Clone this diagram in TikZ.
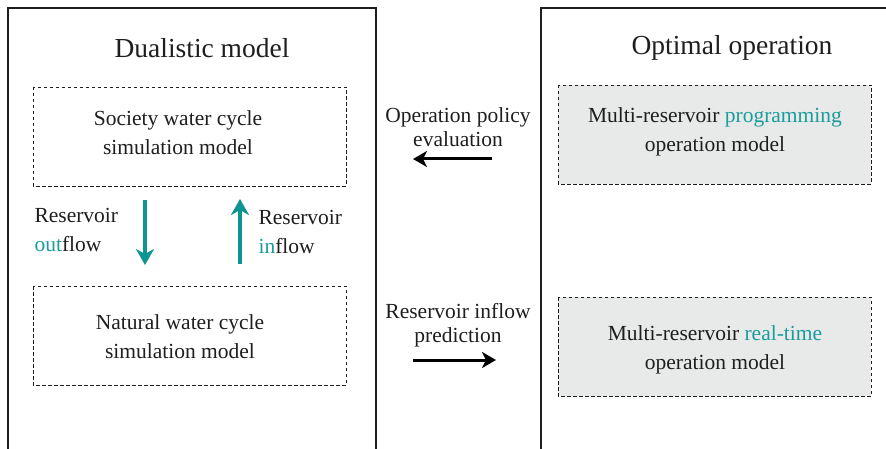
\documentclass[tikz,border=0pt]{standalone}
\usepackage{fontspec}
\setmainfont{Liberation Serif}
\usetikzlibrary{arrows.meta}
\definecolor{tealtxt}{HTML}{1B9C9C}
\definecolor{tealarr}{HTML}{0E9592}
\definecolor{boxgray}{HTML}{E8E9E9}
\definecolor{inkdark}{HTML}{1E1E1E}
\tikzset{
  panel/.style={draw=inkdark, line width=1.2pt},
  modelbox/.style={draw=inkdark, dash pattern=on 3.5pt off 2.5pt, line width=0.8pt},
  graybox/.style={modelbox, fill=boxgray},
  title/.style={font=\fontsize{27.5}{32}\selectfont, text=inkdark},
  body/.style={font=\fontsize{21.5}{29}\selectfont, text=inkdark, align=center},
  linklbl/.style={font=\fontsize{21.5}{24}\selectfont, text=inkdark, align=center},
  lbl/.style={font=\fontsize{21.5}{29}\selectfont, text=inkdark, align=left},
  flowarrow/.style={draw=tealarr, line width=3.8pt, -{Stealth[length=16pt,width=18pt,inset=5pt]}},
  linkarrow/.style={draw=black, line width=3pt, -{Stealth[length=14pt,width=16pt,inset=4pt]}},
}
\begin{document}
\begin{tikzpicture}[x=1pt,y=-1pt]
  \useasboundingbox (0,0) rectangle (886,449);
  \begin{scope}
    \clip (0,0) rectangle (886,449);
    % two panels, open at the bottom/right edge
    \draw[panel] (8,8) rectangle (376,470);
    \draw[panel] (541,8) rectangle (910,470);
  \end{scope}

  % left panel
  \node[title] (ltitle) at (202,48) {Dualistic model};
  \draw[modelbox] (33,87) rectangle (346,186);
  \node[body] (soc) at (178,133) {Society water cycle\\simulation model};
  \draw[modelbox] (33,286) rectangle (346,385);
  \node[body] (nat) at (180,337) {Natural water cycle\\simulation model};

  \coordinate (outtop) at (145,200);
  \coordinate (outbot) at (145,265);
  \coordinate (intop) at (240,199);
  \coordinate (inbot) at (240,264);
  \draw[flowarrow] (outtop) -- (outbot);
  \draw[flowarrow] (inbot) -- (intop);
  \node[lbl, anchor=west] (outlbl) at (31,230) {Reservoir\\\textcolor{tealtxt}{out}flow};
  \node[lbl, anchor=west] (inlbl) at (255,232) {Reservoir\\\textcolor{tealtxt}{in}flow};

  % links between panels
  \node[linklbl] (eval) at (458,127) {Operation policy\\evaluation};
  \coordinate (evalR) at (492,159);
  \coordinate (evalL) at (413,159);
  \draw[linkarrow] (evalR) -- (evalL);
  \node[linklbl] (pred) at (458,325) {Reservoir inflow\\prediction};
  \coordinate (predL) at (413,360);
  \coordinate (predR) at (496,360);
  \draw[linkarrow] (predL) -- (predR);

  % right panel
  \node[title] (rtitle) at (732,48) {Optimal operation};
  \draw[graybox] (558,85) rectangle (871,184);
  \node[body] (prog) at (715,132) {Multi-reservoir \textcolor{tealtxt}{programming}\\operation model};
  \draw[graybox] (558,297) rectangle (871,396);
  \node[body] (rt) at (715,350) {Multi-reservoir \textcolor{tealtxt}{real-time}\\operation model};
\end{tikzpicture}
\end{document}
